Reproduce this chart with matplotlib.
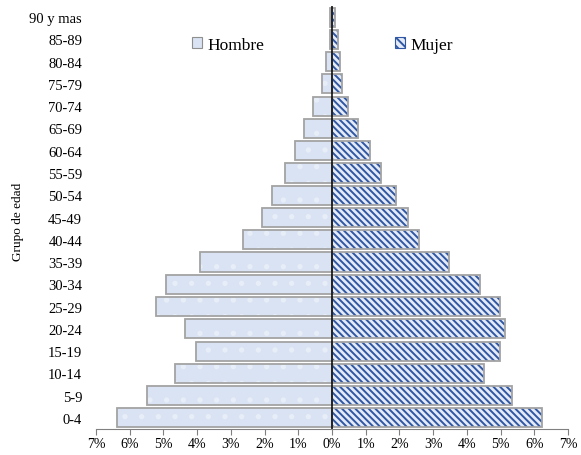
import numpy as np
import matplotlib.pyplot as plt
from matplotlib.patches import Patch

grupos = ["0-4", "5-9", "10-14", "15-19", "20-24", "25-29", "30-34", "35-39",
          "40-44", "45-49", "50-54", "55-59", "60-64", "65-69", "70-74",
          "75-79", "80-84", "85-89", "90 y mas"]
hombre = [6.38, 5.50, 4.67, 4.03, 4.36, 5.23, 4.93, 3.91, 2.64, 2.08, 1.78,
          1.39, 1.10, 0.83, 0.56, 0.31, 0.17, 0.07, 0.05]
mujer = [6.22, 5.34, 4.52, 4.99, 5.13, 4.99, 4.40, 3.47, 2.57, 2.24, 1.90,
         1.46, 1.14, 0.77, 0.48, 0.31, 0.25, 0.18, 0.08]
xticks = list(range(-7, 8))

plt.rcParams['font.family'] = ['Liberation Serif', 'DejaVu Serif']
plt.rcParams['hatch.linewidth'] = 1.4

azul_claro = '#dae3f3'
azul = '#2f57a3'
borde = '#a3a3a3'
rayas = '\\\\\\\\\\'

fig = plt.figure(figsize=(5.81, 4.56), dpi=100)
ax = fig.add_axes([96 / 581, 1 - 430 / 456, 472 / 581, 423 / 456])

y = np.arange(len(grupos))
h = -np.array(hombre)
m = np.array(mujer)
alto = 0.86

# relleno con puntos para hombres, rayado para mujeres, y el borde aparte
ax.barh(y, h, height=alto, color=azul_claro, edgecolor='#e8eef8', hatch='.', linewidth=0)
ax.barh(y, m, height=alto, color='#e4ebf7', edgecolor=azul, hatch=rayas, linewidth=0)
ax.barh(y, h, height=alto, fill=False, edgecolor=borde, linewidth=1.3)
ax.barh(y, m, height=alto, fill=False, edgecolor=borde, linewidth=1.3)

ax.axvline(0, color='black', linewidth=1.1, zorder=5)

ax.set_xlim(-7, 7)
ax.set_ylim(-0.5, len(grupos) - 0.5)
ax.set_xticks(xticks)
ax.set_xticklabels([f"{abs(t)}%" for t in xticks], fontsize=10)
ax.set_yticks(y)
ax.set_yticklabels(grupos, fontsize=10.5)
ax.tick_params(axis='y', length=0, pad=10)
ax.tick_params(axis='x', length=4, color='#808080', pad=2)

for lado in ['top', 'right', 'left']:
    ax.spines[lado].set_visible(False)
ax.spines['bottom'].set_color('#808080')

fig.text(18 / 581, 1 - 222 / 456, "Grupo de edad", rotation=90,
         ha='center', va='center', fontsize=9.5)

handles = [Patch(facecolor=azul_claro, edgecolor='#8f8f8f', linewidth=0.8),
           Patch(facecolor='#e4ebf7', edgecolor=azul, hatch='\\\\\\\\', linewidth=0.8)]
fig.legend(handles, ["Hombre", "Mujer"], ncol=2, frameon=False, fontsize=12.5,
           loc='center left', bbox_to_anchor=(192 / 581, 1 - 46 / 456),
           borderaxespad=0, borderpad=0, handlelength=0.6, handleheight=0.6,
           handletextpad=0.3, columnspacing=7.5)

fig.savefig('out.png', dpi=100)
